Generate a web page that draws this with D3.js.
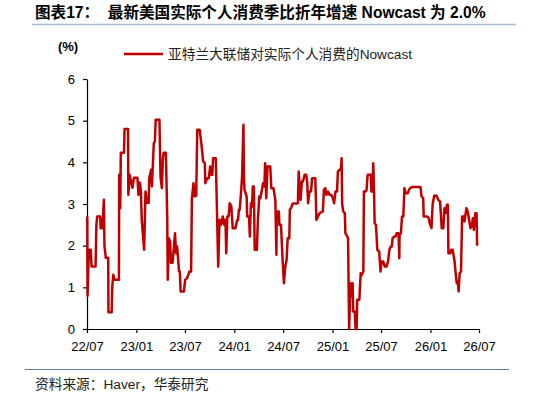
<!DOCTYPE html>
<html>
<head>
<meta charset="utf-8">
<script src="https://cdn.jsdelivr.net/npm/d3@7"></script>
<style>
  body { margin: 0; background: #fff; }
  svg { display: block; font-family: "Liberation Sans", "Noto Sans CJK SC", sans-serif; }
</style>
</head>
<body>
<svg id="chart" width="534" height="396"></svg>
<script>
const dates = [
  "2022-07-02","2022-07-03","2022-07-08","2022-07-15","2022-07-18","2022-08-02","2022-08-05","2022-08-08","2022-08-19","2022-08-21",
  "2022-08-27","2022-09-02","2022-09-04","2022-09-09","2022-09-18","2022-09-19","2022-10-01","2022-10-03","2022-10-07","2022-10-12",
  "2022-10-28","2022-10-29","2022-11-02","2022-11-04","2022-11-16","2022-11-18","2022-12-01","2022-12-02","2022-12-07","2022-12-11",
  "2022-12-17","2022-12-23","2023-01-05","2023-01-09","2023-01-14","2023-01-18","2023-01-21","2023-01-30","2023-02-04","2023-02-10",
  "2023-02-16","2023-02-18","2023-02-25","2023-02-28","2023-03-07","2023-03-11","2023-03-14","2023-03-28","2023-04-01","2023-04-06",
  "2023-04-10","2023-04-13","2023-04-21","2023-04-26","2023-04-28","2023-05-02","2023-05-07","2023-05-10","2023-05-16","2023-05-20",
  "2023-05-25","2023-05-29","2023-06-02","2023-06-09","2023-06-12","2023-06-15","2023-06-27","2023-07-02","2023-07-09","2023-07-18",
  "2023-07-24","2023-07-27","2023-08-02","2023-08-06","2023-08-12","2023-08-16","2023-08-25","2023-08-31","2023-09-07","2023-09-13",
  "2023-09-15","2023-09-22","2023-09-28","2023-10-03","2023-10-07","2023-10-11","2023-10-14","2023-10-24","2023-11-02","2023-11-07",
  "2023-11-13","2023-11-19","2023-11-25","2023-11-29","2023-12-02","2023-12-06","2023-12-11","2023-12-15","2023-12-21","2023-12-26",
  "2024-01-05","2024-01-12","2024-01-15","2024-01-18","2024-01-21","2024-01-26","2024-01-30","2024-02-04","2024-02-06","2024-02-08",
  "2024-02-12","2024-02-16","2024-02-18","2024-02-25","2024-02-28","2024-03-03","2024-03-07","2024-03-10","2024-03-14","2024-03-17",
  "2024-03-25","2024-03-29","2024-04-03","2024-04-07","2024-04-13","2024-04-17","2024-04-22","2024-04-25","2024-04-29","2024-05-04",
  "2024-05-14","2024-05-18","2024-05-26","2024-06-02","2024-06-06","2024-06-07","2024-06-15","2024-06-17","2024-06-23","2024-06-29",
  "2024-07-04","2024-07-09","2024-07-14","2024-07-18","2024-07-24","2024-07-26","2024-07-30","2024-08-06","2024-08-18","2024-08-25",
  "2024-08-28","2024-09-04","2024-09-09","2024-09-13","2024-09-19","2024-09-25","2024-09-29","2024-10-02","2024-10-07","2024-10-13",
  "2024-10-17","2024-10-29","2024-11-02","2024-11-08","2024-11-14","2024-11-26","2024-11-30","2024-12-05","2024-12-09","2024-12-15",
  "2024-12-21","2024-12-27","2025-01-03","2025-01-07","2025-01-12","2025-01-18","2025-01-21","2025-01-27","2025-02-01","2025-02-04",
  "2025-02-06","2025-02-10","2025-02-16","2025-02-18","2025-02-25","2025-02-28","2025-03-04","2025-03-09","2025-03-13","2025-03-17",
  "2025-03-19","2025-03-25","2025-03-28","2025-04-01","2025-04-03","2025-04-11","2025-04-16","2025-04-20","2025-04-26","2025-04-28",
  "2025-05-05","2025-05-08","2025-05-12","2025-05-24","2025-05-26","2025-05-30","2025-06-02","2025-06-05","2025-06-07","2025-06-12",
  "2025-06-17","2025-06-24","2025-06-29","2025-07-03","2025-07-09","2025-07-15","2025-07-21","2025-07-27","2025-08-01","2025-08-06",
  "2025-08-10","2025-08-13","2025-08-19","2025-08-24","2025-08-28","2025-09-04","2025-09-07","2025-09-08","2025-09-13","2025-09-17",
  "2025-09-22","2025-09-26","2025-10-01","2025-10-09","2025-10-13","2025-10-17","2025-10-24","2025-11-25","2025-11-29","2025-12-05",
  "2025-12-07","2025-12-21","2025-12-26","2025-12-29","2026-01-05","2026-01-09","2026-01-15","2026-01-24","2026-01-30","2026-02-06",
  "2026-02-12","2026-02-18","2026-02-22","2026-02-27","2026-03-03","2026-03-07","2026-03-09","2026-03-17","2026-03-19","2026-03-25",
  "2026-04-01","2026-04-05","2026-04-09","2026-04-13","2026-04-16","2026-04-20","2026-04-25","2026-04-29","2026-05-05","2026-05-08",
  "2026-05-15","2026-05-20","2026-05-26","2026-05-30","2026-06-05","2026-06-08","2026-06-12","2026-06-17","2026-06-22","2026-06-24"
];
const values = [
  2.7,0.8,1.9,1.9,1.5,1.5,2.5,2.7,2.7,2.42,
  2.42,3.1,2.0,1.71,1.71,0.4,0.4,1.0,1.3,1.18,
  1.18,3.7,2.9,4.23,4.23,4.8,4.8,3.22,3.7,3.58,
  3.39,3.63,3.63,3.22,3.51,3.3,2.62,1.9,3.3,3.03,
  3.03,3.62,3.82,3.42,4.46,4.5,5.02,5.02,3.66,3.38,
  4.1,4.23,4.23,2.7,1.18,2.18,2.1,1.59,1.59,1.9,
  2.3,1.82,1.98,1.38,1.38,0.9,0.9,1.18,1.22,1.38,
  1.38,3.14,3.5,3.18,3.2,4.78,4.78,4.46,4.02,3.98,
  3.5,3.62,3.62,3.9,3.7,3.7,4.1,4.1,1.5,2.62,
  2.5,2.7,2.5,2.62,1.82,2.7,2.7,3.02,2.94,2.42,
  2.42,2.62,2.62,2.86,2.86,3.26,3.66,4.9,3.66,3.34,
  3.26,3.18,2.7,2.7,2.22,3.02,2.94,3.42,3.42,1.9,
  1.9,2.62,3.18,3.14,3.34,3.5,3.42,3.98,3.14,3.9,
  3.9,3.38,3.38,3.1,1.78,2.82,2.82,2.5,2.5,1.66,
  1.1,1.5,1.66,2.18,2.18,2.86,2.9,3.01,3.01,3.02,
  3.78,3.1,3.54,3.54,3.7,3.7,3.5,3.02,3.3,3.3,
  3.62,3.62,2.62,2.7,2.78,2.82,3.34,3.38,3.22,3.3,
  3.22,3.22,3.14,3.02,3.3,3.3,3.78,3.82,3.82,4.1,
  3.0,2.82,2.78,2.3,2.22,2.18,0,1.1,0.78,1.1,
  0.42,0.42,0,0,0.7,0.7,1.34,1.3,1.38,3.3,
  3.3,3.34,3.7,3.7,3.3,3.3,3.98,3.26,2.54,2.5,
  1.9,1.86,1.38,1.62,1.62,1.5,1.5,1.62,1.9,1.98,
  1.98,2.18,2.22,2.22,2.3,2.3,1.7,2.26,2.3,2.7,
  2.7,3.38,3.26,3.26,3.34,3.38,3.41,3.41,3.18,3.14,
  2.7,2.7,2.66,2.54,2.42,2.98,3.2,3.2,3.1,3.06,
  2.42,2.42,2.9,2.78,2.98,2.98,1.82,1.82,1.9,1.9,
  1.62,1.34,1.1,1.14,0.9,1.34,1.38,2.7,2.7,2.58,
  2.9,2.82,2.58,2.42,2.5,2.66,2.38,2.78,2.78,2.0
];
const xTickDates = ["2022-07-01","2023-01-01","2023-07-01","2024-01-01","2024-07-01",
                    "2025-01-01","2025-07-01","2026-01-01","2026-07-01"];
const yTicks = [0, 1, 2, 3, 4, 5, 6];

const titleText = "图表17：  最新美国实际个人消费季比折年增速 Nowcast 为 2.0%";
const legendLabel = "亚特兰大联储对实际个人消费的Nowcast";
const unitLabel = "(%)";
const sourceText = "资料来源：Haver，华泰研究";

const parseDate = d3.timeParse("%Y-%m-%d");
const data = dates.map((d, i) => ({ date: parseDate(d), value: values[i] }));

const svg = d3.select("#chart");
const margin = { top: 79, right: 55, bottom: 67, left: 87 };
const width = 534, height = 396;

const x = d3.scaleTime()
  .domain([parseDate(xTickDates[0]), parseDate(xTickDates[xTickDates.length - 1])])
  .range([margin.left, width - margin.right]);
const y = d3.scaleLinear().domain([0, 6]).range([height - margin.bottom, margin.top]);

// title + rule
svg.append("text")
  .attr("x", 35).attr("y", 18)
  .attr("font-size", 15.6).attr("font-weight", "bold").attr("fill", "#000")
  .attr("xml:space", "preserve")
  .text(titleText);
svg.append("line")
  .attr("x1", 32).attr("x2", 516).attr("y1", 24.5).attr("y2", 24.5)
  .attr("stroke", "#a9bccf").attr("stroke-width", 1.5);

// unit label
svg.append("text")
  .attr("x", 68).attr("y", 51)
  .attr("text-anchor", "middle")
  .attr("font-size", 13).attr("font-weight", "bold")
  .text(unitLabel);

// legend
svg.append("line")
  .attr("x1", 124).attr("x2", 163).attr("y1", 54).attr("y2", 54)
  .attr("stroke", "#c00000").attr("stroke-width", 2.5);
svg.append("text")
  .attr("x", 168).attr("y", 58.5)
  .attr("font-size", 13.7).attr("fill", "#222")
  .text(legendLabel);

// axes
const xAxis = svg.append("g")
  .attr("transform", `translate(0,${y(0)})`)
  .call(d3.axisBottom(x)
    .tickValues(xTickDates.map(parseDate))
    .tickFormat(d3.timeFormat("%y/%m"))
    .tickSize(4).tickSizeOuter(0));
const yAxis = svg.append("g")
  .attr("transform", `translate(${margin.left},0)`)
  .call(d3.axisLeft(y).tickValues(yTicks).tickFormat(d3.format("d"))
    .tickSize(4).tickSizeOuter(0));

[xAxis, yAxis].forEach(g => {
  g.select(".domain").attr("stroke", "#000").attr("stroke-width", 1.2);
  g.selectAll(".tick line").attr("stroke", "#000").attr("stroke-width", 1.2);
  g.selectAll(".tick text")
    .attr("font-family", "Liberation Sans, sans-serif")
    .attr("font-size", 13).attr("fill", "#000");
});
xAxis.selectAll(".tick text").attr("dy", "1.15em");
yAxis.selectAll(".tick text").attr("x", -12);

// series
const line = d3.line()
  .x(d => x(d.date))
  .y(d => y(d.value));
svg.append("path")
  .datum(data)
  .attr("fill", "none")
  .attr("stroke", "#c00000")
  .attr("stroke-width", 2.5)
  .attr("stroke-linejoin", "round")
  .attr("d", line);

// source note
svg.append("line")
  .attr("x1", 25).attr("x2", 509).attr("y1", 369.5).attr("y2", 369.5)
  .attr("stroke", "#5a80a8").attr("stroke-width", 1);
svg.append("text")
  .attr("x", 35).attr("y", 389)
  .attr("font-size", 13.7).attr("fill", "#222")
  .text(sourceText);
</script>
</body>
</html>
